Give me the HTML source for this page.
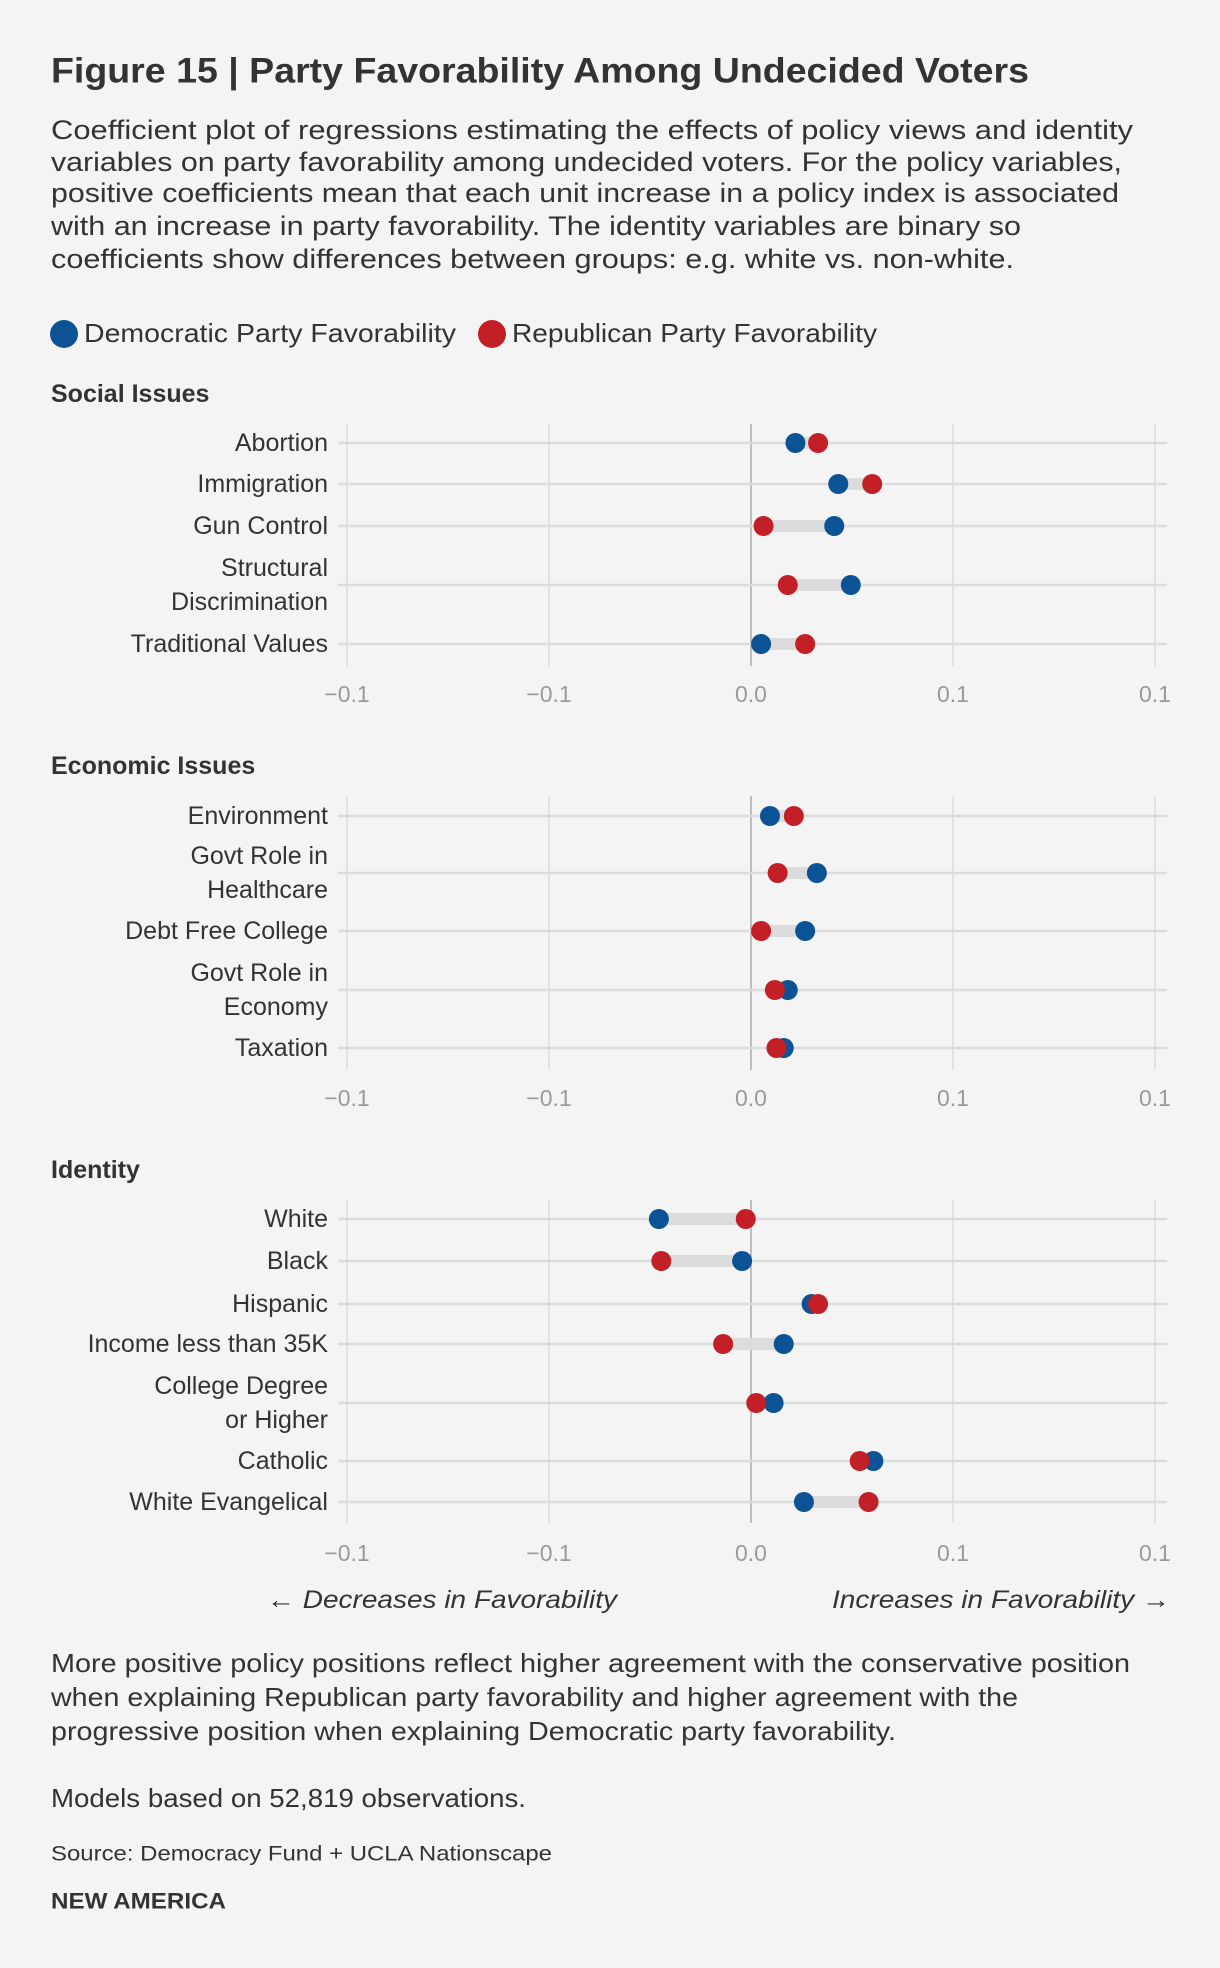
<!DOCTYPE html>
<html><head><meta charset="utf-8"><style>
html,body{margin:0;padding:0;background:#f4f4f4;}
svg{display:block;font-family:"Liberation Sans",sans-serif;}
</style></head><body>
<svg id="chart" width="1220" height="1968" viewBox="0 0 1220 1968" xmlns="http://www.w3.org/2000/svg">
<rect width="1220" height="1968" fill="#f4f4f4"/>
<text x="51" y="71" dominant-baseline="central" font-size="35" font-weight="bold" fill="#333" textLength="978" lengthAdjust="spacingAndGlyphs">Figure 15 | Party Favorability Among Undecided Voters</text>
<g font-size="27" fill="#333">
<text x="51" y="130" dominant-baseline="central" textLength="1082" lengthAdjust="spacingAndGlyphs">Coefficient plot of regressions estimating the effects of policy views and identity</text>
<text x="51" y="162" dominant-baseline="central" textLength="1071" lengthAdjust="spacingAndGlyphs">variables on party favorability among undecided voters. For the policy variables,</text>
<text x="51" y="193" dominant-baseline="central" textLength="1068" lengthAdjust="spacingAndGlyphs">positive coefficients mean that each unit increase in a policy index is associated</text>
<text x="51" y="226" dominant-baseline="central" textLength="970" lengthAdjust="spacingAndGlyphs">with an increase in party favorability. The identity variables are binary so</text>
<text x="51" y="259" dominant-baseline="central" textLength="963" lengthAdjust="spacingAndGlyphs">coefficients show differences between groups: e.g. white vs. non-white.</text>
</g>
<g>
<circle cx="64" cy="334" r="14" fill="#0b5394"/>
<text x="84" y="333" dominant-baseline="central" font-size="26" fill="#333" textLength="372" lengthAdjust="spacingAndGlyphs">Democratic Party Favorability</text>
<circle cx="492" cy="334" r="14" fill="#c21f27"/>
<text x="512" y="333" dominant-baseline="central" font-size="26" fill="#333" textLength="365" lengthAdjust="spacingAndGlyphs">Republican Party Favorability</text>
</g>
<g id="panels"></g>
<g font-size="25" font-style="italic" fill="#333">
<text x="267" y="1600" dominant-baseline="central" textLength="350" lengthAdjust="spacingAndGlyphs">← Decreases in Favorability</text>
<text x="1170" y="1600" dominant-baseline="central" text-anchor="end" textLength="338" lengthAdjust="spacingAndGlyphs">Increases in Favorability →</text>
</g>
<g font-size="26" fill="#333">
<text x="51" y="1663" dominant-baseline="central" textLength="1079" lengthAdjust="spacingAndGlyphs">More positive policy positions reflect higher agreement with the conservative position</text>
<text x="51" y="1697" dominant-baseline="central" textLength="967" lengthAdjust="spacingAndGlyphs">when explaining Republican party favorability and higher agreement with the</text>
<text x="51" y="1731" dominant-baseline="central" textLength="845" lengthAdjust="spacingAndGlyphs">progressive position when explaining Democratic party favorability.</text>
<text x="51" y="1798" dominant-baseline="central" textLength="475" lengthAdjust="spacingAndGlyphs">Models based on 52,819 observations.</text>
</g>
<text x="51" y="1854" dominant-baseline="central" font-size="21" fill="#333" textLength="501" lengthAdjust="spacingAndGlyphs">Source: Democracy Fund + UCLA Nationscape</text>
<text x="51" y="1901" dominant-baseline="central" font-size="22" font-weight="bold" fill="#333" textLength="175" lengthAdjust="spacingAndGlyphs">NEW AMERICA</text>
</svg>
<script>
const socialLabels = [["Abortion"],["Immigration"],["Gun Control"],["Structural","Discrimination"],["Traditional Values"]];
const socialDem = [0.011, 0.0216, 0.0206, 0.0247, 0.0025];
const socialRep = [0.0166, 0.030, 0.0031, 0.0091, 0.0134];
const econLabels = [["Environment"],["Govt Role in","Healthcare"],["Debt Free College"],["Govt Role in","Economy"],["Taxation"]];
const econDem = [0.0047, 0.0163, 0.0134, 0.0091, 0.0081];
const econRep = [0.0106, 0.0066, 0.0025, 0.0059, 0.0063];
const idLabels = [["White"],["Black"],["Hispanic"],["Income less than 35K"],["College Degree","or Higher"],["Catholic"],["White Evangelical"]];
const idDem = [-0.0228, -0.0022, 0.015, 0.0081, 0.0056, 0.0303, 0.0131];
const idRep = [-0.0013, -0.0222, 0.0166, -0.0069, 0.0013, 0.0269, 0.0291];
const tickValues = [-0.1, -0.05, 0, 0.05, 0.1];
const tickLabels = ["\u22120.1", "\u22120.1", "0.0", "0.1", "0.1"];

const NS = "http://www.w3.org/2000/svg";
const root = document.getElementById("panels");
function x(v){ return 751 + v * 4040; }
function mk(tag, attrs, parent){
  const e = document.createElementNS(NS, tag);
  for (const k in attrs) e.setAttribute(k, attrs[k]);
  parent.appendChild(e);
  return e;
}
function panel(key, title, titleY, rowYs, labels, dem, rep, top, bottom, tickY){
  const g = mk("g", {}, root);
  
  
  const t = mk("text", {x:51, y:titleY, "dominant-baseline":"central", "font-size":25, "font-weight":"bold", fill:"#333"}, g);
  
  
  t.textContent = title;
  tickValues.forEach((v, i) => {
    const l = mk("line", {x1:x(v), x2:x(v), y1:top, y2:bottom, stroke: v===0 ? "#999" : "#dcdcdc", "stroke-width": v===0 ? 1.2 : 1.5}, g);
    
    
    const tl = mk("text", {x:x(v), y:tickY, "text-anchor":"middle", "dominant-baseline":"central", "font-size":23, fill:"#9a9a9a"}, g);
    
    
    tl.textContent = tickLabels[i];
  });
  rowYs.forEach((y, i) => {
    const rl = mk("line", {x1:338, x2:1167, y1:y, y2:y, stroke:"#dcdcdc", "stroke-width":2.5}, g);
    
    
    const a = Math.min(x(dem[i]), x(rep[i])), b = Math.max(x(dem[i]), x(rep[i]));
    const band = mk("rect", {x:a, y:y-6, width:b-a, height:12, fill:"#dcdcdc"}, g);
    
    
    const lab = labels[i];
    lab.forEach((s, j) => {
      const ty = lab.length === 1 ? y : y + (j === 0 ? -17 : 17);
      const tt = mk("text", {x:328, y:ty, "text-anchor":"end", "dominant-baseline":"central", "font-size":25, fill:"#333"}, g);
      
      
      tt.textContent = s;
    });
    const dDot = mk("circle", {cx:x(dem[i]), cy:y, r:10, fill:"#0b5394"}, g);
    
    
    const rDot = mk("circle", {cx:x(rep[i]), cy:y, r:10, fill:"#c21f27"}, g);
    
    
  });
}
panel("social", "Social Issues", 394, [443,484,526,585,644], socialLabels, socialDem, socialRep, 424, 666, 694);
panel("economic", "Economic Issues", 766, [816,873,931,990,1048], econLabels, econDem, econRep, 796, 1070, 1098);
panel("identity", "Identity", 1170, [1219,1261,1304,1344,1403,1461,1502], idLabels, idDem, idRep, 1200, 1523, 1553);
</script>
</body></html>
